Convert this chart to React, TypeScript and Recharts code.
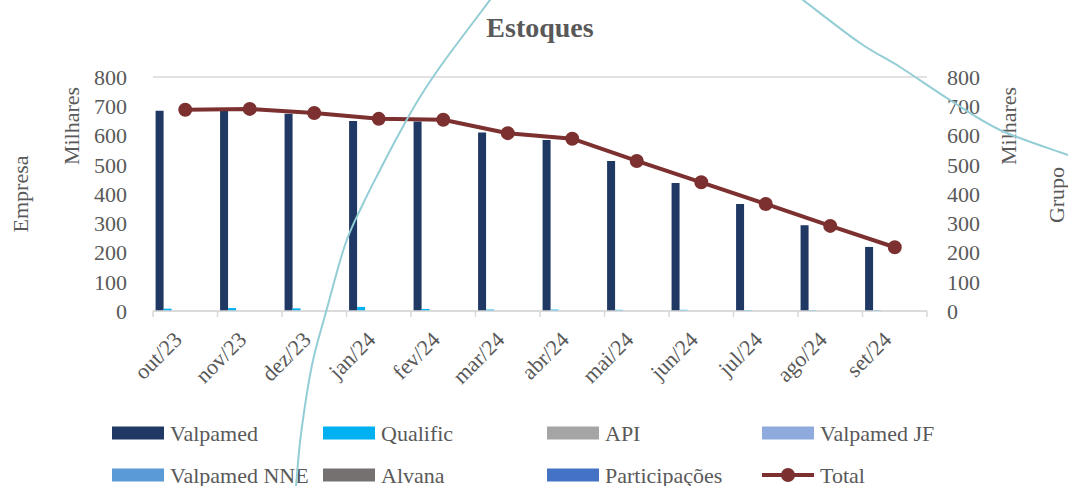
import React from 'react';
import { ComposedChart, Bar, Line, XAxis, YAxis, CartesianGrid } from 'recharts';

const months = ['out/23', 'nov/23', 'dez/23', 'jan/24', 'fev/24', 'mar/24', 'abr/24', 'mai/24', 'jun/24', 'jul/24', 'ago/24', 'set/24'];
const valpamed = [685, 686, 674, 650, 648, 610, 585, 513, 438, 366, 293, 219];
const qualific = [8, 10, 9, 14, 7, 5, 5, 4, 4, 3, 3, 3];
const api = [0, 0, 0, 0, 0, 0, 0, 0, 0, 0, 0, 0];
const valpamedJF = [0, 0, 0, 0, 0, 0, 0, 0, 0, 0, 0, 0];
const valpamedNNE = [0, 0, 0, 0, 0, 0, 0, 0, 0, 0, 0, 0];
const alvana = [0, 0, 0, 0, 0, 0, 0, 0, 0, 0, 0, 0];
const participacoes = [0, 0, 0, 0, 0, 0, 0, 0, 0, 0, 0, 0];
const total = [688, 691, 677, 657, 654, 608, 589, 513, 440, 366, 291, 218];
const yTicks = [0, 100, 200, 300, 400, 500, 600, 700, 800];

const barSeries = [
  { key: 'valpamed', name: 'Valpamed', color: '#203864', values: valpamed },
  { key: 'qualific', name: 'Qualific', color: '#00b0f0', values: qualific },
  { key: 'api', name: 'API', color: '#a5a5a5', values: api },
  { key: 'valpamedJF', name: 'Valpamed JF', color: '#8faadc', values: valpamedJF },
  { key: 'valpamedNNE', name: 'Valpamed NNE', color: '#5b9bd5', values: valpamedNNE },
  { key: 'alvana', name: 'Alvana', color: '#767171', values: alvana },
  { key: 'participacoes', name: 'Participações', color: '#4472c4', values: participacoes },
];
const TOTAL_COLOR = '#7c3030';

const data = months.map((m, i) => {
  const row: Record<string, string | number> = { month: m, total: total[i] };
  barSeries.forEach((s) => (row[s.key] = s.values[i]));
  return row;
});

const W = 1068;
const H = 486;
const LEFT_W = 153;
const RIGHT_W = 141;
const TOP = 77;
const PLOT_W = W - LEFT_W - RIGHT_W;
const BAND = PLOT_W / months.length;
const TEXT = '#595959';
const GRID = '#d9d9d9';
const FONT = 'Liberation Serif, DejaVu Serif, serif';

// stray shape visible in the original screenshot
const arcLeft = [[294, 500], [296, 486], [301, 434], [312, 365], [326, 312], [345, 245], [362, 206], [380, 170], [400, 132], [420, 97], [445, 60], [490, 0], [497, -10]];
const arcRight = [[795, -6], [803, 0], [860, 43], [900, 67], [950, 100], [1000, 130], [1068, 155], [1080, 160]];

function smoothPath(pts: number[][]) {
  let d = `M${pts[0][0]},${pts[0][1]}`;
  for (let i = 0; i < pts.length - 1; i++) {
    const p0 = pts[i - 1] || pts[i];
    const p1 = pts[i];
    const p2 = pts[i + 1];
    const p3 = pts[i + 2] || p2;
    const c1 = [p1[0] + (p2[0] - p0[0]) / 6, p1[1] + (p2[1] - p0[1]) / 6];
    const c2 = [p2[0] - (p3[0] - p1[0]) / 6, p2[1] - (p3[1] - p1[1]) / 6];
    d += ` C${c1[0]},${c1[1]} ${c2[0]},${c2[1]} ${p2[0]},${p2[1]}`;
  }
  return d;
}

const MonthTick = (props: any) => {
  const { x, y, payload, index } = props;
  const ax = y - 8;
  return (
    <g>
      <line x1={x - BAND / 2} y1={ax} x2={x - BAND / 2} y2={ax + 6} stroke={GRID} strokeWidth={1.5} />
      {index === months.length - 1 && <line x1={x + BAND / 2} y1={ax} x2={x + BAND / 2} y2={ax + 6} stroke={GRID} strokeWidth={1.5} />}
      <text x={x - 2} y={y + 22} transform={`rotate(-45, ${x - 2}, ${y + 22})`} textAnchor="end" fill={TEXT} fontSize={22} fontFamily={FONT}>
        {payload.value}
      </text>
    </g>
  );
};

const legendCols = [112, 323, 547, 762];
const legendRows = [433, 475];

function ChartLegend() {
  const items = [...barSeries.map((s) => ({ name: s.name, color: s.color, line: false })), { name: 'Total', color: TOTAL_COLOR, line: true }];
  return (
    <g>
      {items.map((it, i) => {
        const x = legendCols[i % 4];
        const y = legendRows[Math.floor(i / 4)];
        return (
          <g key={it.name}>
            {it.line ? (
              <>
                <line x1={x} y1={y} x2={x + 52} y2={y} stroke={it.color} strokeWidth={4} />
                <circle cx={x + 26} cy={y} r={7} fill={it.color} />
              </>
            ) : (
              <rect x={x} y={y - 6.5} width={52} height={13} fill={it.color} />
            )}
            <text x={x + 58} y={y + 7.5} fontSize={22} fill={TEXT} fontFamily={FONT}>
              {it.name}
            </text>
          </g>
        );
      })}
    </g>
  );
}

export default function App() {
  return (
    <div style={{ position: 'absolute', left: 0, top: 0, width: W, height: H, background: '#fff', overflow: 'hidden', fontFamily: FONT }}>
      <ComposedChart width={W} height={H} data={data} margin={{ top: TOP, right: 0, bottom: 0, left: 0 }} barCategoryGap="4%" barGap={0}>
        <CartesianGrid vertical={false} stroke={GRID} strokeWidth={1.5} />
        <XAxis dataKey="month" interval={0} height={H - TOP - 234} tickLine={false} axisLine={{ stroke: GRID, strokeWidth: 1.5 }} tick={<MonthTick />} />
        <YAxis
          yAxisId="left"
          width={LEFT_W}
          domain={[0, 800]}
          ticks={yTicks}
          interval={0}
          axisLine={false}
          tickLine={false}
          tickMargin={20}
          tick={{ fill: TEXT, fontSize: 22, fontFamily: FONT }}
        />
        <YAxis
          yAxisId="right"
          orientation="right"
          width={RIGHT_W}
          domain={[0, 800]}
          ticks={yTicks}
          interval={0}
          axisLine={false}
          tickLine={false}
          tickMargin={14}
          tick={{ fill: TEXT, fontSize: 22, fontFamily: FONT, textAnchor: 'start' }}
        />
        {barSeries.map((s) => (
          <Bar key={s.key} yAxisId="left" dataKey={s.key} name={s.name} fill={s.color} isAnimationActive={false} />
        ))}
        <Line
          yAxisId="right"
          type="linear"
          dataKey="total"
          name="Total"
          stroke={TOTAL_COLOR}
          strokeWidth={4}
          dot={{ r: 6, fill: TOTAL_COLOR, stroke: TOTAL_COLOR, strokeWidth: 2 }}
          isAnimationActive={false}
        />
      </ComposedChart>
      <svg width={W} height={H} style={{ position: 'absolute', left: 0, top: 0, pointerEvents: 'none' }}>
        <text x={540} y={37} textAnchor="middle" fontWeight="bold" fontSize={28} fill={TEXT} fontFamily={FONT}>
          Estoques
        </text>
        <text transform="translate(79,126) rotate(-90)" textAnchor="middle" fontSize={22} fill={TEXT} fontFamily={FONT}>
          Milhares
        </text>
        <text transform="translate(28,194) rotate(-90)" textAnchor="middle" fontSize={22} fill={TEXT} fontFamily={FONT}>
          Empresa
        </text>
        <text transform="translate(1016,126) rotate(-90)" textAnchor="middle" fontSize={22} fill={TEXT} fontFamily={FONT}>
          Milhares
        </text>
        <text transform="translate(1064,195) rotate(-90)" textAnchor="middle" fontSize={22} fill={TEXT} fontFamily={FONT}>
          Grupo
        </text>
        <ChartLegend />
        <path d={smoothPath(arcLeft)} fill="none" stroke="#93cdd5" strokeWidth={2} />
        <path d={smoothPath(arcRight)} fill="none" stroke="#93cdd5" strokeWidth={2} />
      </svg>
    </div>
  );
}
